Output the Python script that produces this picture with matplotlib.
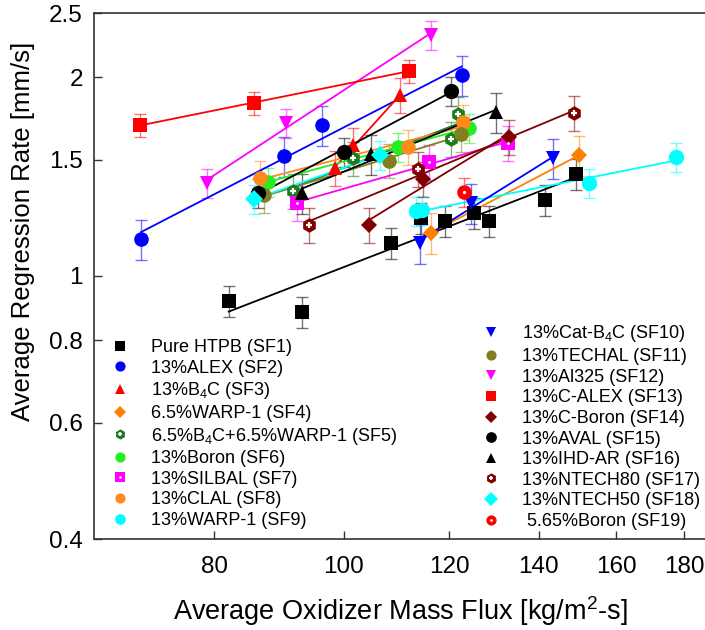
import numpy as np
import matplotlib
matplotlib.use("Agg")
import matplotlib.pyplot as plt
from matplotlib.lines import Line2D
from matplotlib.legend_handler import HandlerTuple
from matplotlib.ticker import FixedLocator, NullLocator, FixedFormatter

plt.rcParams['font.family'] = ['Liberation Sans', 'DejaVu Sans']
plt.rcParams['mathtext.fontset'] = 'custom'
plt.rcParams['mathtext.rm'] = 'Liberation Sans'
plt.rcParams['mathtext.it'] = 'Liberation Sans:italic'
plt.rcParams['mathtext.default'] = 'regular'

# ---------------- data ----------------
sf1_x = [82.0, 93.0, 108.5, 114.3, 119.1, 125.2, 128.5, 141.6, 149.4]
sf1_y = [0.917, 0.882, 1.122, 1.224, 1.211, 1.245, 1.211, 1.303, 1.427]
sf2_x = [70.5, 90.2, 96.4, 122.6]
sf2_y = [1.137, 1.519, 1.692, 2.014]
sf3_x = [98.6, 101.6, 110.3]
sf3_y = [1.457, 1.578, 1.878]
sf4_x = [116.2, 150.2]
sf4_y = [1.162, 1.524]
sf5_x = [91.6, 101.6, 120.3, 121.8]
sf5_y = [1.345, 1.506, 1.612, 1.758]
sf6_x = [87.8, 109.8, 124.1]
sf6_y = [1.388, 1.567, 1.675]
sf7_x = [92.2, 115.8, 132.8]
sf7_y = [1.289, 1.487, 1.589]
sf8_x = [86.6, 111.7, 122.8]
sf8_y = [1.407, 1.567, 1.710]
sf9_x = [113.3, 114.5, 152.8, 177.3]
sf9_y = [1.254, 1.258, 1.382, 1.514]
sf10_x = [114.1, 124.6, 143.6]
sf10_y = [1.122, 1.289, 1.506]
sf11_x = [87.1, 108.1, 122.4]
sf11_y = [1.324, 1.495, 1.640]
sf12_x = [79.0, 90.5, 116.2]
sf12_y = [1.382, 1.704, 2.315]
sf13_x = [70.4, 85.7, 111.9]
sf13_y = [1.692, 1.827, 2.043]
sf14_x = [104.4, 114.7, 133.0]
sf14_y = [1.194, 1.402, 1.623]
sf15_x = [86.2, 100.0, 120.3]
sf15_y = [1.335, 1.540, 1.905]
sf16_x = [93.0, 104.8, 130.1]
sf16_y = [1.335, 1.530, 1.770]
sf17_x = [94.2, 113.7, 148.9]
sf17_y = [1.194, 1.451, 1.764]
sf18_x = [85.7, 106.4]
sf18_y = [1.307, 1.524]
sf19_x = [123.1]
sf19_y = [1.340]

labels = ["Pure HTPB (SF1)", "13%ALEX (SF2)", "13%B$_4$C (SF3)", "6.5%WARP-1 (SF4)",
          "6.5%B$_4$C+6.5%WARP-1 (SF5)", "13%Boron (SF6)", "13%SILBAL (SF7)",
          "13%CLAL (SF8)", "13%WARP-1 (SF9)", "13%Cat-B$_4$C (SF10)", "13%TECHAL (SF11)",
          "13%Al325 (SF12)", "13%C-ALEX (SF13)", "13%C-Boron (SF14)", "13%AVAL (SF15)",
          "13%IHD-AR (SF16)", "13%NTECH80 (SF17)", "13%NTECH50 (SF18)", " 5.65%Boron (SF19)"]

xs = [sf1_x, sf2_x, sf3_x, sf4_x, sf5_x, sf6_x, sf7_x, sf8_x, sf9_x, sf10_x,
      sf11_x, sf12_x, sf13_x, sf14_x, sf15_x, sf16_x, sf17_x, sf18_x, sf19_x]
ys = [sf1_y, sf2_y, sf3_y, sf4_y, sf5_y, sf6_y, sf7_y, sf8_y, sf9_y, sf10_y,
      sf11_y, sf12_y, sf13_y, sf14_y, sf15_y, sf16_y, sf17_y, sf18_y, sf19_y]
rel_err = [0.055, 0.07, 0.06, 0.07, 0.06, 0.05, 0.06, 0.06, 0.05, 0.07,
           0.06, 0.05, 0.04, 0.06, 0.05, 0.07, 0.06, 0.05, 0.05]

x_ticks = [80, 100, 120, 140, 160, 180]
y_ticks = [0.4, 0.6, 0.8, 1.0, 1.5, 2.0, 2.5]
y_tick_labels = ["0.4", "0.6", "0.8", "1", "1.5", "2", "2.5"]

# ---------------- styles ----------------
styles = [
    ('s', '#000000', 9.5, None),
    ('o', '#0000FF', 10.5, None),
    ('^', '#FF0000', 10, None),
    ('D', '#FF8000', 8.5, None),
    ('h', '#1E7B1E', 10.5, '+'),
    ('o', '#22EE22', 10.5, None),
    ('s', '#FF00FF', 9.5, '.'),
    ('o', '#FF8A1E', 10.5, None),
    ('o', '#00FFFF', 11, None),
    ('v', '#0000FF', 10, None),
    ('o', '#808020', 10.5, None),
    ('v', '#FF00FF', 10, None),
    ('s', '#FF0000', 9.5, None),
    ('D', '#800000', 8.5, None),
    ('o', '#000000', 11, None),
    ('^', '#000000', 10, None),
    ('h', '#800000', 10.5, '+'),
    ('D', '#00FFFF', 9.5, None),
    ('o', '#FF0000', 10.5, '.'),
]

W, H = 705, 630
fig = plt.figure(figsize=(W / 100, H / 100), dpi=100)
ax = fig.add_axes([94 / W, 1 - 539 / H, (705 - 94) / W + 0.002, (539 - 13) / H])
ax.set_xscale('log')
ax.set_yscale('log')
ax.set_xlim(65.0, 187.0)
ax.set_ylim(0.4, 2.5)

handles = []
for i, (x, y) in enumerate(zip(xs, ys)):
    m, c, ms, inner = styles[i]
    x = np.asarray(x, float)
    y = np.asarray(y, float)
    err = y * rel_err[i]
    ax.errorbar(x, y, yerr=err, fmt='none', ecolor=c, alpha=0.55, elinewidth=1.0,
                capsize=4, capthick=1.0, zorder=2)
    if len(x) > 1:
        p = np.polyfit(np.log10(x), np.log10(y), 1)
        xf = np.linspace(x.min(), x.max(), 50)
        ax.plot(xf, 10 ** np.polyval(p, np.log10(xf)), color=c, lw=1.3, zorder=3)
    ax.plot(x, y, linestyle='none', marker=m, color=c, markersize=ms,
            markeredgewidth=0, zorder=4)
    h_main = Line2D([], [], linestyle='none', marker=m, color=c,
                    markersize=ms * 0.7, markeredgewidth=0)
    if inner == '+':
        ax.plot(x, y, linestyle='none', marker='+', color='white', markersize=ms * 0.45,
                markeredgewidth=1.6, zorder=5)
        h_in = Line2D([], [], linestyle='none', marker='+', color='white',
                      markersize=ms * 0.33, markeredgewidth=1.3)
        handles.append((h_main, h_in))
    elif inner == '.':
        ax.plot(x, y, linestyle='none', marker='o', color='white', markersize=ms * 0.22,
                markeredgewidth=0, zorder=5)
        h_in = Line2D([], [], linestyle='none', marker='o', color='white',
                      markersize=ms * 0.18, markeredgewidth=0)
        handles.append((h_main, h_in))
    else:
        handles.append(h_main)

ax.xaxis.set_major_locator(FixedLocator(x_ticks))
ax.xaxis.set_major_formatter(FixedFormatter([str(v) for v in x_ticks]))
ax.xaxis.set_minor_locator(NullLocator())
ax.yaxis.set_major_locator(FixedLocator(y_ticks))
ax.yaxis.set_major_formatter(FixedFormatter(y_tick_labels))
ax.yaxis.set_minor_locator(NullLocator())
ax.tick_params(direction='in', length=6, width=1, labelsize=17.5, pad=8, color='#333333')
ax.tick_params(axis='x', pad=12)
ax.spines['right'].set_visible(False)
for s in ['left', 'bottom', 'top']:
    ax.spines[s].set_color('#333333')
    ax.spines[s].set_linewidth(1.2)

ax.set_xlabel("Average Oxidizer Mass Flux [kg/m$^2$-s]", fontsize=19.5, labelpad=12)
ax.set_ylabel("Average Regression Rate [mm/s]", fontsize=18.5)
ax.yaxis.set_label_coords(-0.097, 0.585)

leg_kw = dict(frameon=False, fontsize=13, handlelength=1.0, handletextpad=1.2,
              labelspacing=0.2, borderaxespad=0, borderpad=0,
              handler_map={tuple: HandlerTuple(ndivide=1)})
leg1 = ax.legend(handles[:9], labels[:9], loc='lower left',
                 bbox_to_anchor=(111 / W, 1 - 529 / H), bbox_transform=fig.transFigure, **leg_kw)
ax.add_artist(leg1)
leg2 = ax.legend(handles[9:], labels[9:], loc='lower left',
                 bbox_to_anchor=(482 / W, 1 - 530 / H), bbox_transform=fig.transFigure, **leg_kw)

fig.savefig("out.png", dpi=100)
